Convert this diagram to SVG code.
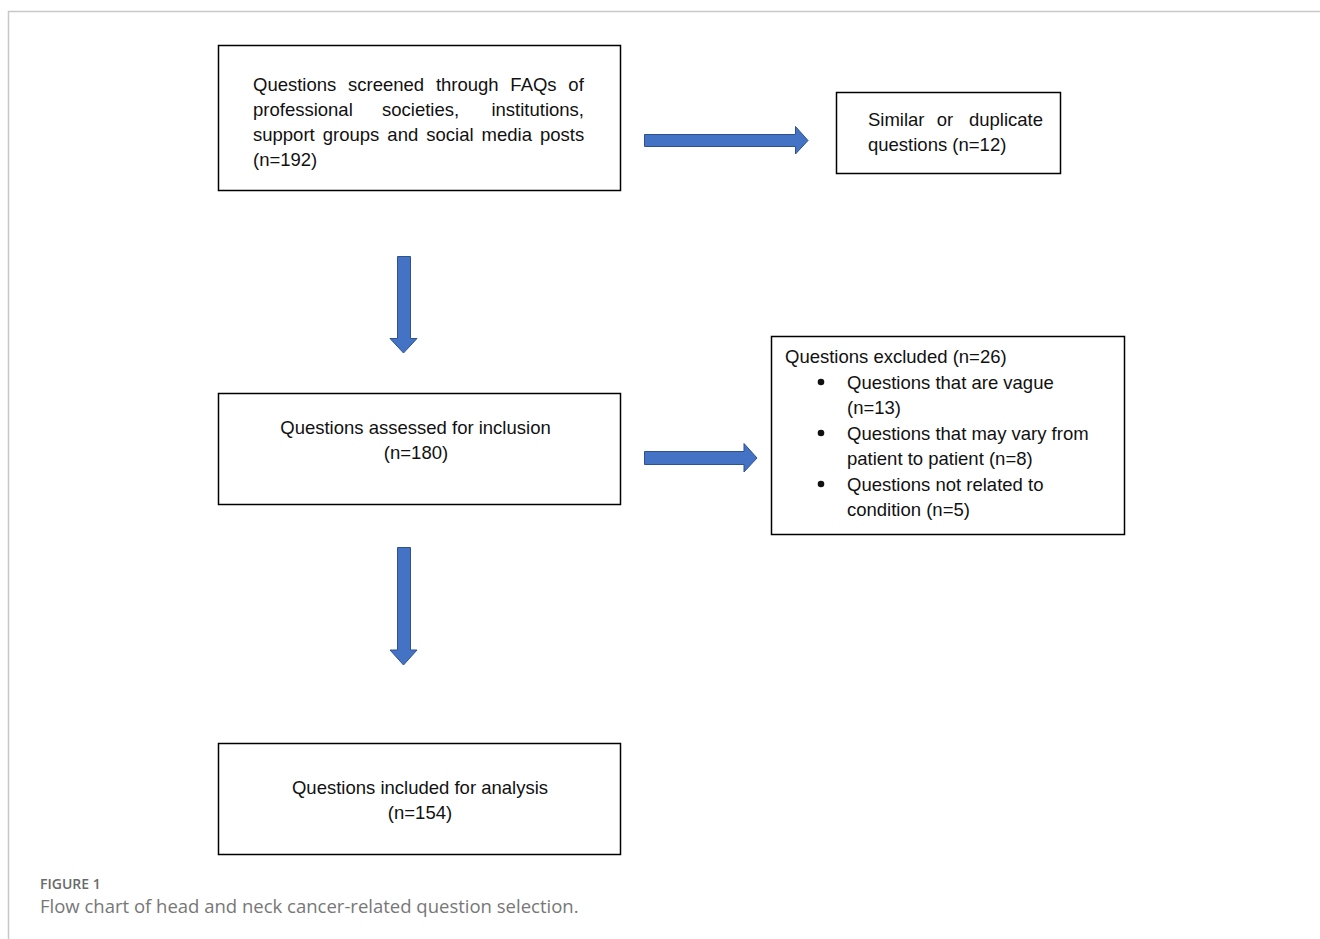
<svg xmlns="http://www.w3.org/2000/svg" width="1320" height="939" viewBox="0 0 1320 939">
<style>
.box{fill:#fff;stroke:#000;stroke-width:1.5}
.t{font-family:"Liberation Sans",Arial,sans-serif;font-size:18.5px;fill:#111}
.c{text-anchor:middle}
.e{text-anchor:end}
.arr{fill:#4472C4;stroke:#2F528F;stroke-width:1}
.cap1{font-family:"Open Sans","Liberation Sans",sans-serif;font-size:14px;font-weight:600;fill:#6a6a6a}
.cap2{font-family:"Open Sans","Liberation Sans",sans-serif;font-size:18.5px;fill:#777}
</style>
<rect width="1320" height="939" fill="#fff"/>
<path d="M8.5 939V11.5H1320" fill="none" stroke="#c8c8c8" stroke-width="1.5"/>
<g id="connectors">
<path class="arr" d="M644.5 134.5H795.5V126.5L808 140.5L795.5 154V146.5H644.5Z"/>
<path class="arr" d="M397.5 256.5H410.5V338.5H417L403.5 353L390 338.5H397.5Z"/>
<path class="arr" d="M397.5 547.5H410.5V650H417L403.5 665L390 650H397.5Z"/>
<path class="arr" d="M644.5 451.5H744V443.5L757 458L744 472V464.5H644.5Z"/>
</g>
<g id="n1">
<rect class="box" x="218.5" y="45.5" width="402" height="145"/>
<text class="t" x="253" y="90.5" word-spacing="6.6">Questions screened through FAQs of</text>
<text class="t" x="253" y="115.5">professional</text>
<text class="t" x="382" y="115.5">societies,</text>
<text class="t e" x="584" y="115.5">institutions,</text>
<text class="t" x="253" y="140.5" word-spacing="2.9">support groups and social media posts</text>
<text class="t" x="253" y="165.5">(n=192)</text>
</g>
<g id="n2">
<rect class="box" x="836.5" y="92.5" width="224" height="81"/>
<text class="t" x="868" y="125.5">Similar</text>
<text class="t c" x="945" y="125.5">or</text>
<text class="t e" x="1043" y="125.5">duplicate</text>
<text class="t" x="868" y="150.5">questions (n=12)</text>
</g>
<g id="n3">
<rect class="box" x="218.5" y="393.5" width="402" height="111"/>
<text class="t c" x="415.5" y="433.5">Questions assessed for inclusion</text>
<text class="t c" x="416" y="458.5">(n=180)</text>
</g>
<g id="n4">
<rect class="box" x="771.5" y="336.5" width="353" height="198"/>
<text class="t" x="785" y="362.5">Questions excluded (n=26)</text>
<circle cx="821" cy="382" r="3.3" fill="#111"/>
<circle cx="821" cy="433" r="3.3" fill="#111"/>
<circle cx="821" cy="484" r="3.3" fill="#111"/>
<text class="t" x="847" y="388.5">Questions that are vague</text>
<text class="t" x="847" y="413.5">(n=13)</text>
<text class="t" x="847" y="439.5">Questions that may vary from</text>
<text class="t" x="847" y="464.5">patient to patient (n=8)</text>
<text class="t" x="847" y="490.5">Questions not related to</text>
<text class="t" x="847" y="515.5">condition (n=5)</text>
</g>
<g id="n5">
<rect class="box" x="218.5" y="743.5" width="402" height="111"/>
<text class="t c" x="420" y="793.5">Questions included for analysis</text>
<text class="t c" x="420" y="818.5">(n=154)</text>
</g>
<text class="cap1" x="40" y="889">FIGURE 1</text>
<text class="cap2" x="40" y="913">Flow chart of head and neck cancer-related question selection.</text>
</svg>
